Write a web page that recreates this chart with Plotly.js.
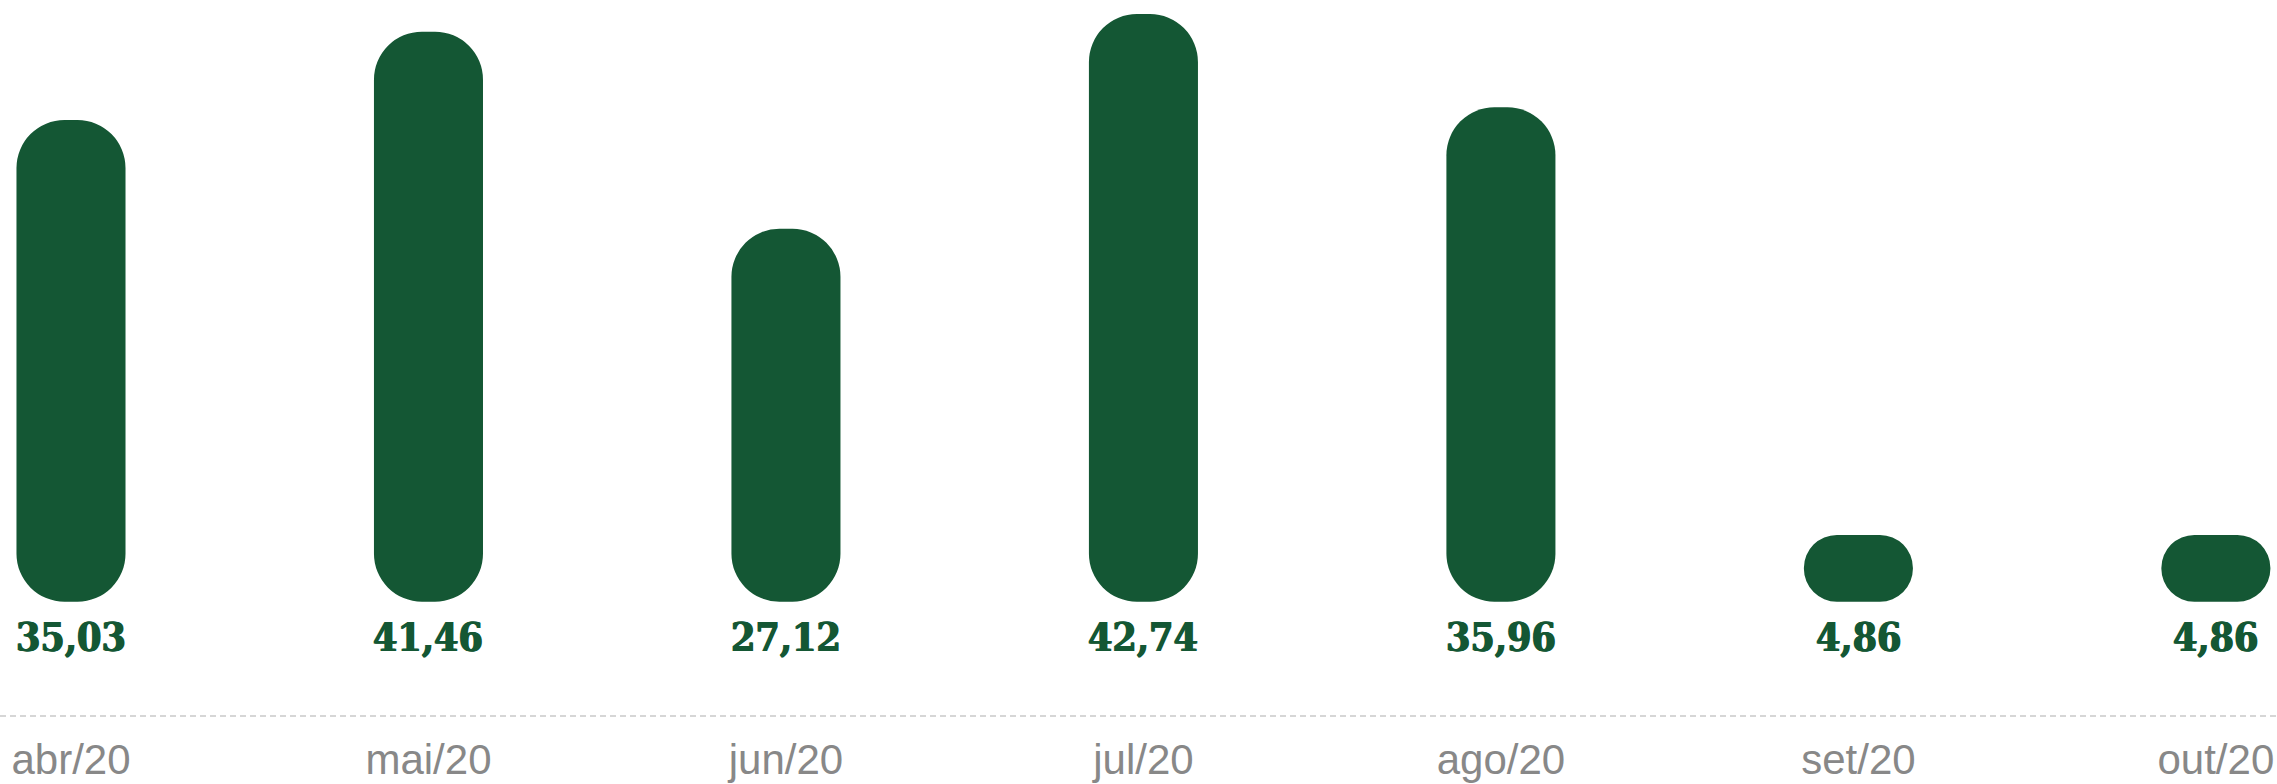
<!DOCTYPE html>
<html><head><meta charset="utf-8">
<script src="https://cdn.plot.ly/plotly-3.0.1.min.js"></script>
<style>html,body{margin:0;padding:0;background:#fff}#chart{width:2277px;height:784px}</style>
</head><body><div id="chart"></div>
<script>
const months = ['abr/20','mai/20','jun/20','jul/20','ago/20','set/20','out/20'];
const values = [35.03, 41.46, 27.12, 42.74, 35.96, 4.86, 4.86];
const labels = ['35,03','41,46','27,12','42,74','35,96','4,86','4,86'];

const barColor = '#145734';

const traces = [
  {type:'bar', x: months, y: values, base: months.map(() => 0), width: 0.305,
   marker:{color: barColor, cornerradius: 48, line:{width:0}}, hoverinfo:'skip'}
];

const annotations = months.map((m, i) => ({
  x: m, y: 0, xref:'x', yref:'y', yanchor:'top', xanchor:'center', yshift: -10,
  text: labels[i], showarrow:false,
  font:{family:'DejaVu Serif Condensed, DejaVu Serif, serif', size:39, color: barColor, weight:'bold',
        shadow:'0.7px 0 0 #145734, -0.7px 0 0 #145734'}
}));

const layout = {
  width: 2277, height: 784,
  margin:{l:0, r:0, t:0, b:68, pad:0},
  paper_bgcolor:'#fff', plot_bgcolor:'#fff',
  barmode:'overlay', showlegend:false,
  xaxis:{range:[-0.1986, 6.171], showgrid:false, zeroline:false, showline:false, ticks:'',
         ticklabelstandoff: 15, fixedrange:true,
         tickfont:{family:'Liberation Sans, Arial, sans-serif', size:42, color:'#888888'}},
  yaxis:{range:[-8.31, 43.76], visible:false, fixedrange:true},
  shapes:[{type:'line', xref:'paper', yref:'paper', x0:0, x1:1, y0:0, y1:0,
           line:{color:'#d6d6d6', width:2, dash:'6px,4px'}}],
  annotations: annotations
};

Plotly.newPlot('chart', traces, layout, {displayModeBar:false, staticPlot:true});
</script></body></html>
